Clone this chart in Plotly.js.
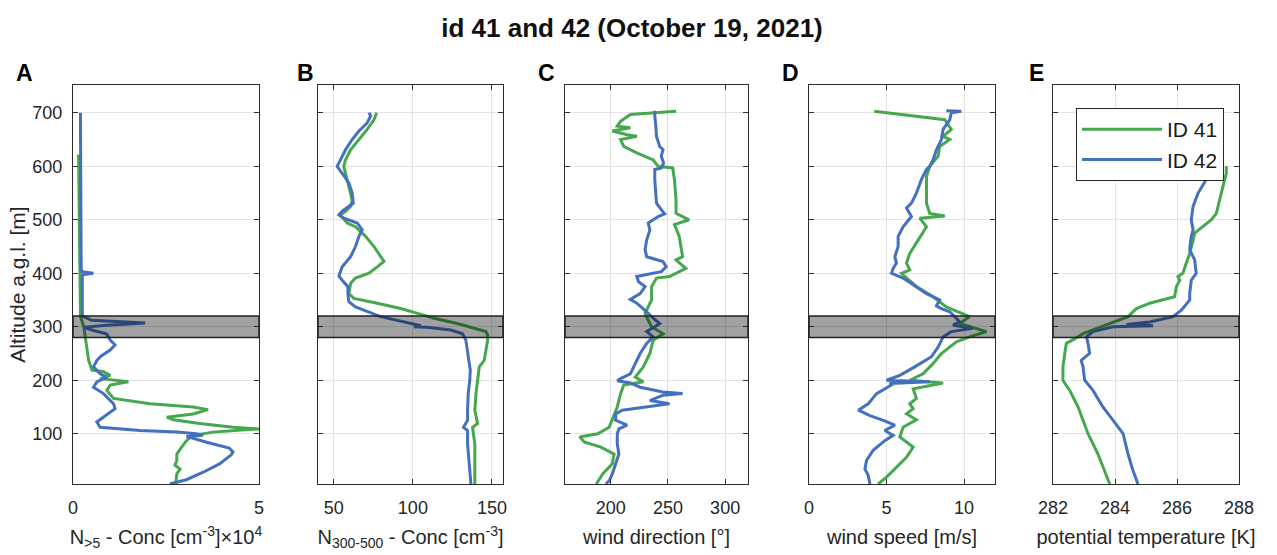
<!DOCTYPE html>
<html>
<head>
<meta charset="utf-8">
<script src="https://cdn.plot.ly/plotly-3.0.1.min.js"></script>
<style>html,body{margin:0;padding:0;background:#fff;}#chart{width:1277px;height:555px;}</style>
</head>
<body>
<div id="chart"></div>
<script>
// ---------- DATA (altitude in m a.g.l.) ----------
// Panel A: N>5 concentration [cm^-3] x 10^4
const altA41 = [622,500,400,319,300,281,262,237,219,216,209,203,197,191,181,166,156,150,145,137,131,126,119,112,109,103,97,87,75,62,50,41,34,25,12,6];
const valA41 = [0.15,0.17,0.18,0.2,0.29,0.33,0.38,0.42,0.51,0.82,1.0,0.73,1.49,1.0,0.91,1.09,2.07,3.23,3.63,3.23,2.52,2.7,3.41,4.3,5.0,3.77,3.23,3.05,2.92,2.79,2.79,2.74,2.88,2.79,2.77,2.77];
const altA42 = [700,600,500,410,403,400,397,350,320,312,307,303,299,293,287,275,266,256,245,237,225,212,206,197,187,175,156,147,131,122,112,106,103,100,97,95,84,73,66,61,44,28,14,6];
const valA42 = [0.2,0.21,0.21,0.22,0.24,0.55,0.25,0.24,0.25,0.5,1.94,0.9,0.3,0.55,0.9,1.0,1.13,0.99,0.75,0.64,0.55,0.73,0.91,0.64,0.55,0.82,1.09,1.13,0.82,0.64,0.73,1.8,2.8,3.32,3.5,3.05,3.59,4.2,4.3,4.26,3.95,3.5,3.05,2.6];

// Panel B: N300-500 concentration [cm^-3]
const altB41 = [700,687,669,650,631,612,600,587,562,537,525,516,509,494,487,469,450,431,422,412,400,391,381,362,353,344,334,325,316,306,297,291,284,275,256,237,225,200,175,144,119,112,81,50,6];
const valB41 = [77.1,75.4,71.1,65.9,60.6,57.4,56.3,57.4,59.5,61.6,60.6,57.4,54.2,58.5,63.7,70.1,75.4,79.6,81.7,77.5,72.2,63.7,60.6,59.5,62.7,77.5,92.3,102.9,113.4,128.2,138.8,146.2,147.3,147.3,146.2,145.1,142,140.9,139.9,139.2,140.9,137.7,139.2,139.2,139.2];
const altB42 = [700,694,681,666,650,631,612,600,587,569,550,531,516,509,503,494,481,469,450,431,412,395,387,375,362,347,337,328,319,312,306,302,300,299,294,287,275,256,237,219,200,175,144,125,112,106,81,50,19,6];
const valB42 = [72.2,73.3,71.1,65.9,61.6,57.4,54.2,52.1,55.3,59.5,61.6,62.3,55.3,53.2,56.3,64.8,68.0,65.9,63.7,60.6,55.3,53.2,55.3,58.9,58.9,59.5,63.7,71.1,79.6,90.2,98.6,105,100.7,109,124,131.4,133.5,134.6,135.6,136.3,136,135,134.6,134.6,132,134.6,134.6,135.6,136.3,136.7];

// Panel C: wind direction [deg]
const altC41 = [703,697,684,675,672,666,659,656,650,637,625,612,600,597,575,537,512,500,491,469,431,425,409,400,394,391,375,350,337,325,312,300,287,275,250,225,206,197,191,175,150,112,100,94,84,75,62,44,25,19,6];
const valC41 = [257.1,217.1,208.6,205.7,217.1,201.4,214.3,222.8,208.6,211.4,222.8,237.1,241.4,254.2,255.7,257.1,257.1,268.5,255.7,259.9,262.8,257.1,265.6,257.1,251.4,240.0,235.7,235.7,232.8,230.0,232.8,235.7,245.7,237.1,234.2,228.5,221.4,228.5,211.4,208.6,205.7,198.6,188.6,172.9,177.2,191.4,202.9,201.4,192.9,191.4,187.2];
const altC42 = [704,694,675,656,637,631,619,606,597,594,575,550,531,519,511,506,494,481,462,444,431,422,412,403,397,394,384,375,362,351,344,334,325,316,306,300,291,281,269,250,231,212,203,199,195,187,178,175,172,162,156,150,144,137,125,116,109,100,81,62,44,25,12,6];
const valC42 = [238.5,238.5,239.4,240.0,242.8,245.7,244.2,246.2,244.2,238.5,238.5,239.4,240.0,244.2,247.1,241.4,232.8,234.2,231.4,230.0,231.4,245.7,248.5,244.2,231.4,222.8,224.3,230.0,225.7,217.1,222.8,228.5,232.8,237.1,242.8,238.5,231.4,237.1,231.4,225.7,221.4,217.1,208.6,205.7,217.1,225.7,245.7,262.8,245.7,234.2,251.4,231.4,210,204.3,204.3,214.3,207.1,205.7,205.7,207.1,204.3,201.4,198.6,195.7];

// Panel D: wind speed [m/s]
const altD41 = [703,687,669,656,650,637,619,600,581,550,531,512,507,503,487,462,437,419,406,400,394,375,356,337,325,319,306,291,281,272,250,231,212,200,195,184,166,156,147,137,126,112,94,81,75,56,37,19,6];
const valD41 = [4.21,8.76,9.18,8.65,9.08,8.43,8.33,7.79,7.58,7.58,7.58,7.79,8.76,7.15,7.58,7.04,6.5,6.29,6.5,5.97,6.18,6.93,8.0,8.86,9.83,10.36,9.72,11.44,10.36,9.51,8.54,8.0,7.36,6.5,8.65,6.72,6.93,6.5,6.72,6.29,6.93,6.07,5.86,6.5,6.72,6.29,5.64,5.0,4.46];
const altD42 = [704,703,700,687,669,650,631,612,600,594,575,550,531,522,506,487,469,450,431,419,409,400,391,375,362,350,339,334,328,319,309,303,297,291,281,262,244,225,209,200,197,194,191,175,156,144,134,125,116,106,97,87,69,50,34,22,6];
const valD42 = [8.86,9.83,9.18,9.08,8.65,8.54,8.22,8.0,7.79,7.58,7.25,6.93,6.61,6.29,6.61,6.07,5.75,5.75,5.54,5.64,5.43,5.32,6.07,6.93,7.58,8.43,8.22,8.54,9.08,9.4,9.72,9.29,10.58,9.18,8.65,8.33,7.9,6.82,5.86,5.0,7.79,5.21,5.32,4.36,3.82,3.18,3.93,4.79,5.54,4.89,5.43,4.89,4.14,3.71,3.61,3.82,3.93];

// Panel E: potential temperature [K]
const altE41 = [600,587,562,537,512,500,487,475,462,437,419,400,394,387,375,356,344,334,319,306,297,287,281,269,250,225,200,181,150,125,100,62,31,6];
const valE41 = [287.59,287.59,287.48,287.38,287.27,287.11,286.84,286.57,286.52,286.41,286.3,286.19,286.03,286.09,285.98,285.92,285.12,284.69,284.42,283.83,283.4,282.97,282.81,282.43,282.38,282.32,282.32,282.54,282.81,282.97,283.13,283.45,283.67,283.83];
const altE42 = [591,575,550,525,500,481,469,444,425,400,387,362,350,331,319,309,304,302,300,297,291,281,269,250,237,225,200,181,150,125,100,62,31,6];
const valE42 = [287.11,286.95,286.68,286.52,286.46,286.52,286.46,286.41,286.57,286.62,286.46,286.41,286.41,286.14,285.87,285.12,284.37,285.23,283.94,283.72,283.29,283.08,283.13,283.18,282.91,282.97,283.02,283.29,283.61,283.94,284.26,284.42,284.58,284.74];

const seriesNames = ['ID 41', 'ID 42'];
const altTicks = [100,200,300,400,500,600,700];
const bandLow = 280, bandHigh = 320;

// ---------- STYLE ----------
const GREEN = '#46a84e', BLUE = '#4470bf';
const FONT = 'Liberation Sans, Arial, Helvetica, sans-serif';
const W = 1277, H = 555, ML = 73, MR = 38, MT = 85, MB = 71;
const PW = W - ML - MR, PH = H - MT - MB;
const px2x = p => (p - ML) / PW;
const px2y = p => (H - MB - p) / PH;

const panels = [
  {alt41: altA41, v41: valA41, alt42: altA42, v42: valA42, range: [0, 5], ticks: [0, 5],
   title: 'N<sub>>5</sub> - Conc [cm<sup>-3</sup>]×10<sup>4</sup>', dom: [73, 259]},
  {alt41: altB41, v41: valB41, alt42: altB42, v42: valB42, range: [40, 157], ticks: [50, 100, 150],
   title: 'N<sub>300-500</sub> - Conc [cm<sup>-3</sup>]', dom: [318, 503]},
  {alt41: altC41, v41: valC41, alt42: altC42, v42: valC42, range: [160, 320], ticks: [200, 250, 300],
   title: 'wind direction [°]', dom: [565, 748]},
  {alt41: altD41, v41: valD41, alt42: altD42, v42: valD42, range: [0, 12], ticks: [0, 5, 10],
   title: 'wind speed [m/s]', dom: [809, 995]},
  {alt41: altE41, v41: valE41, alt42: altE42, v42: valE42, range: [282, 288], ticks: [282, 284, 286, 288],
   title: 'potential temperature [K]', dom: [1053, 1239]}
];
const letters = ['A', 'B', 'C', 'D', 'E'];
const letterX = [24, 305, 546, 790, 1036];

const traces = [];
const layout = {
  width: W, height: H,
  margin: {l: ML, r: MR, t: MT, b: MB},
  paper_bgcolor: '#fff', plot_bgcolor: '#fff',
  font: {family: FONT, color: '#262626', size: 18},
  showlegend: true,
  legend: {x: px2x(1076), y: px2y(108), xanchor: 'left', yanchor: 'top',
           bgcolor: '#fff', bordercolor: '#262626', borderwidth: 1,
           font: {size: 21, color: '#1a1a1a', family: FONT}, tracegroupgap: 0,
           itemwidth: 80},
  title: {text: '<b>id 41 and 42 (October 19, 2021)</b>', x: 632 / W, xanchor: 'center',
          y: 1 - 28 / H, yanchor: 'middle', yref: 'container',
          font: {size: 26, color: '#111', family: FONT}},
  shapes: [], annotations: []
};

panels.forEach((p, i) => {
  const n = i === 0 ? '' : String(i + 1);
  const xa = 'x' + n, ya = 'y' + n;
  traces.push({x: p.v41, y: p.alt41, xaxis: xa, yaxis: ya, type: 'scatter', mode: 'lines',
               name: seriesNames[0], legendgroup: 'g41', showlegend: i === 4,
               line: {color: GREEN, width: 3}});
  traces.push({x: p.v42, y: p.alt42, xaxis: xa, yaxis: ya, type: 'scatter', mode: 'lines',
               name: seriesNames[1], legendgroup: 'g42', showlegend: i === 4,
               line: {color: BLUE, width: 3}});
  layout['xaxis' + n] = {
    domain: [px2x(p.dom[0]), px2x(p.dom[1])], anchor: ya, range: p.range,
    tickvals: p.ticks, ticks: 'inside', ticklen: 5, tickcolor: '#333',
    showline: true, linecolor: '#2b2b2b', linewidth: 1.2, mirror: 'ticks',
    showgrid: true, gridcolor: '#e3e3e3', gridwidth: 1, zeroline: false,
    tickfont: {size: 18, color: '#262626'}, ticklabelstandoff: 7,
    title: {text: p.title, font: {size: 20, color: '#262626'}, standoff: 13}
  };
  layout['yaxis' + n] = {
    domain: [0, 1], anchor: xa, range: [6, 752],
    tickvals: altTicks, ticks: 'inside', ticklen: 5, tickcolor: '#333',
    showline: true, linecolor: '#2b2b2b', linewidth: 1.2, mirror: 'ticks',
    showgrid: true, gridcolor: '#e3e3e3', gridwidth: 1, zeroline: false,
    showticklabels: i === 0, tickfont: {size: 18, color: '#262626'}, ticklabelstandoff: 6,
    title: i === 0 ? {text: 'Altitude a.g.l. [m]', font: {size: 21, color: '#262626'}, standoff: 0} : undefined
  };
  layout.shapes.push({type: 'rect', xref: xa + ' domain', yref: ya, x0: 0, x1: 1,
    y0: bandLow, y1: bandHigh, fillcolor: 'rgba(0,0,0,0.37)',
    line: {color: '#222', width: 1.5}, layer: 'above'});
  layout.annotations.push({text: '<b>' + letters[i] + '</b>', xref: 'paper', yref: 'paper',
    x: px2x(letterX[i]), y: px2y(73), xanchor: 'center', yanchor: 'middle', showarrow: false,
    font: {size: 23, color: '#000', family: FONT}});
});

Plotly.newPlot('chart', traces, layout, {displayModeBar: false, staticPlot: true});
</script>
</body>
</html>
